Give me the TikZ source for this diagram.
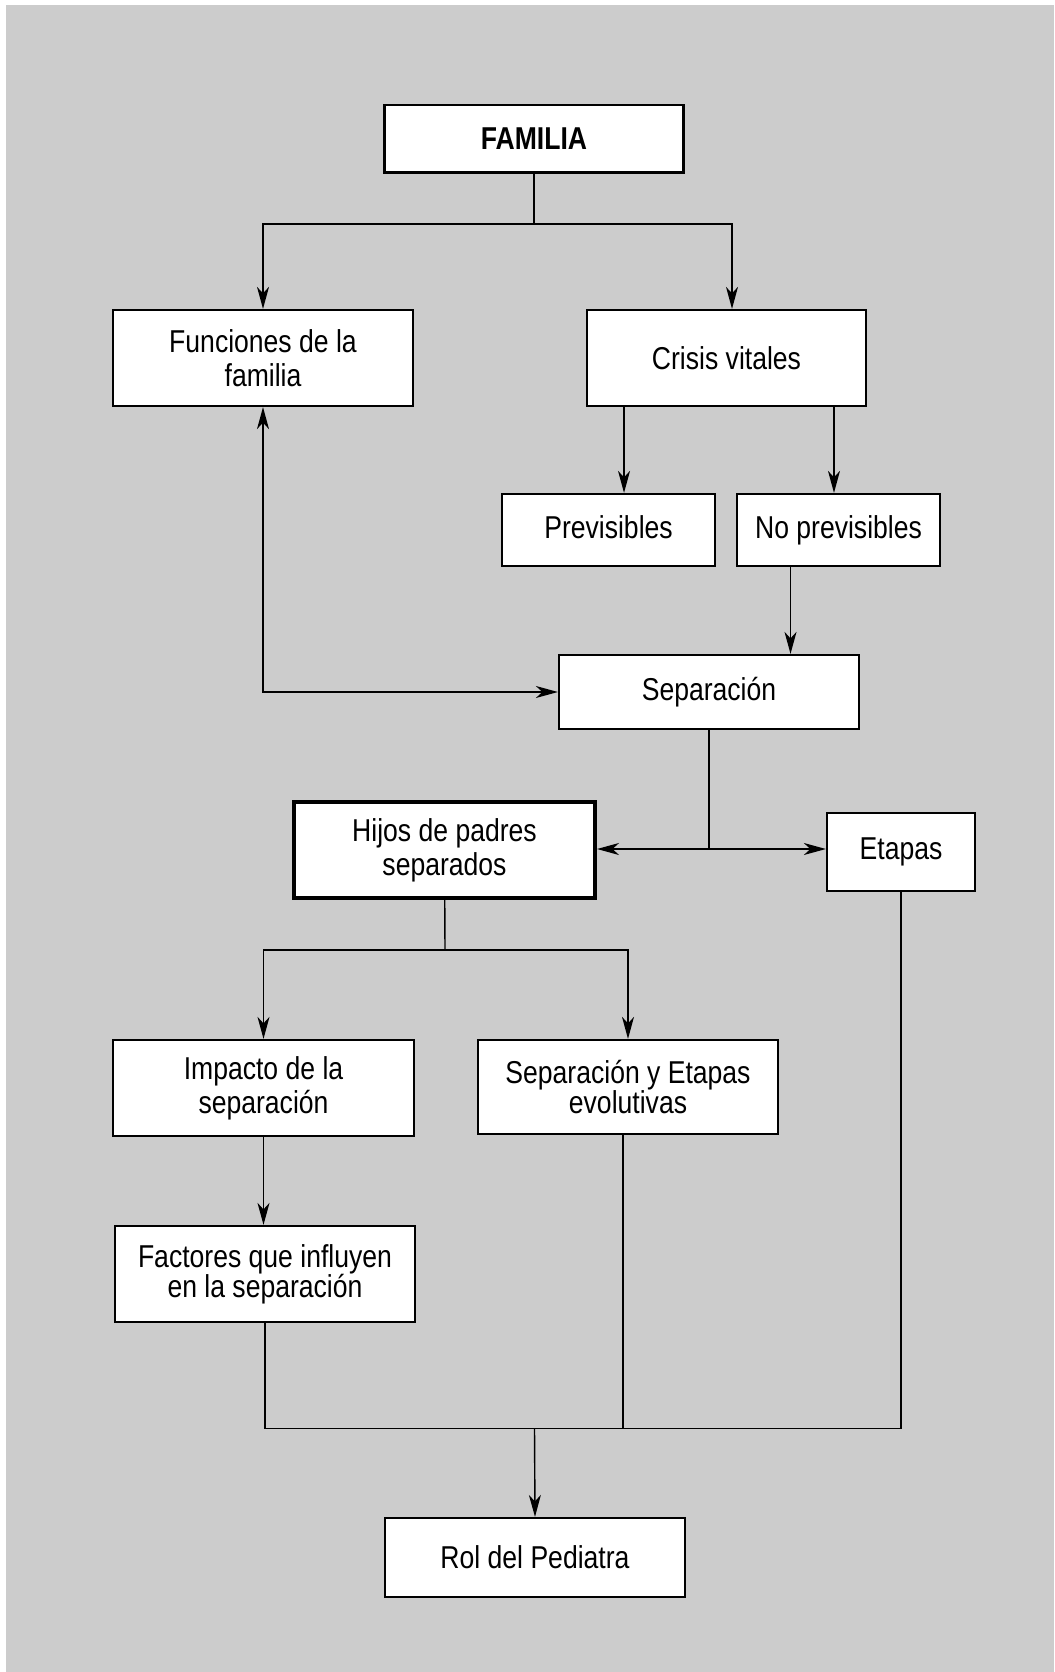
\documentclass[tikz,border=0pt]{standalone}
\usepackage{fontspec}
\setmainfont{Liberation Sans}[FakeStretch=0.84]
\usetikzlibrary{arrows.meta,calc}
\tikzset{
	caja/.style={draw, fill=white, line width=1.3pt, align=center, inner sep=0pt, font=\fontsize{18}{19.5}\selectfont},
	punta/.tip={Stealth[length=0.44cm, width=0.24cm, inset=0.13cm]},
	flecha/.style={line width=0.8pt, -punta},
	linea/.style={line width=0.8pt}
}

\begin{document}
\begin{tikzpicture}[x=0.02cm, y=-0.02cm]
		%%%%% FONDO %%%%%
		\fill[white] (0, 0) rectangle (1054, 1672);
		\fill[black!20] (6, 5) rectangle (1054, 1672);
		\useasboundingbox (0, 0) rectangle (1054, 1672);
		
		%%%%% CAJAS %%%%%
		\node[caja, line width=1.7pt, minimum width=6cm, minimum height=1.36cm, font=\fontsize{18}{19.5}\selectfont\bfseries] (fam) at (534, 139) {FAMILIA};
		
		\node[caja, minimum width=6cm, minimum height=1.92cm] (fun) at (263, 358) {Funciones de la\\familia};
		\node[caja, minimum width=5.58cm, minimum height=1.92cm] (cri) at (726.5, 358) {Crisis vitales};
		
		\node[caja, minimum width=4.26cm, minimum height=1.44cm] (prev) at (608.5, 530) {Previsibles\vphantom{p}};
		\node[caja, minimum width=4.06cm, minimum height=1.44cm] (nop) at (838.5, 530) {No previsibles};
		
		\node[caja, minimum width=6cm, minimum height=1.48cm] (sep) at (709, 692) {Separación};
		
		\node[caja, line width=2.3pt, minimum width=6.02cm, minimum height=1.92cm] (hij) at (444.5, 850) {Hijos de padres\\separados};
		\node[caja, minimum width=2.96cm, minimum height=1.56cm] (eta) at (901, 852) {Etapas};
		
		\node[caja, minimum width=6.02cm, minimum height=1.92cm] (imp) at (263.5, 1088) {Impacto de la\\separación};
		\node[caja, minimum width=6cm, minimum height=1.88cm, font=\fontsize{18}{17}\selectfont] (sye) at (628, 1087) {Separación y Etapas\\evolutivas};
		\node[caja, minimum width=6cm, minimum height=1.92cm, font=\fontsize{18}{17}\selectfont] (fac) at (265, 1274) {Factores que influyen\\en la separación};
		
		\node[caja, minimum width=6cm, minimum height=1.58cm] (rol) at (535, 1557.5) {Rol del Pediatra};
		
		%%%%% UNIONES %%%%%
		\coordinate (j1) at (534, 224);
		\coordinate (j2) at (709, 849);
		\coordinate (j3) at (445, 950);
		\coordinate (j4) at (534.5, 1428.5);
		
		\draw[linea] (fam) -- (j1);
		\draw[flecha] (j1) -| (fun.north);
		\draw[flecha] (j1) -| ([xshift=0.11cm]cri.north);
		
		\draw[flecha] ([xshift=-2.05cm]cri.south) -- ([xshift=-2.05cm]cri.south |- prev.north);
		\draw[flecha] ([xshift=2.15cm]cri.south) -- ([xshift=2.15cm]cri.south |- nop.north);
		
		\draw[flecha] ([xshift=-0.96cm]nop.south) -- ([xshift=-0.96cm]nop.south |- sep.north);
		\draw[linea, punta-punta] (fun.south) |- (sep.west);
		
		\draw[linea] (sep) -- (j2);
		\draw[flecha] (j2) -- (j2 -| hij.east);
		\draw[flecha] (j2) -- (j2 -| eta.west);
		
		\draw[linea] (hij) -- (j3);
		\draw[flecha] (j3) -| (imp.north);
		\draw[flecha] (j3) -| (sye.north);
		
		\draw[flecha] (imp.south) -- (imp.south |- fac.north);
		
		\draw[linea] (fac.south) |- (eta.south |- j4) -- (eta.south);
		\draw[linea] ([xshift=-0.1cm]sye.south) -- ([xshift=-0.1cm]sye.south |- j4);
		\draw[flecha] (j4) -- (rol.north);
	\end{tikzpicture}
\end{document}
